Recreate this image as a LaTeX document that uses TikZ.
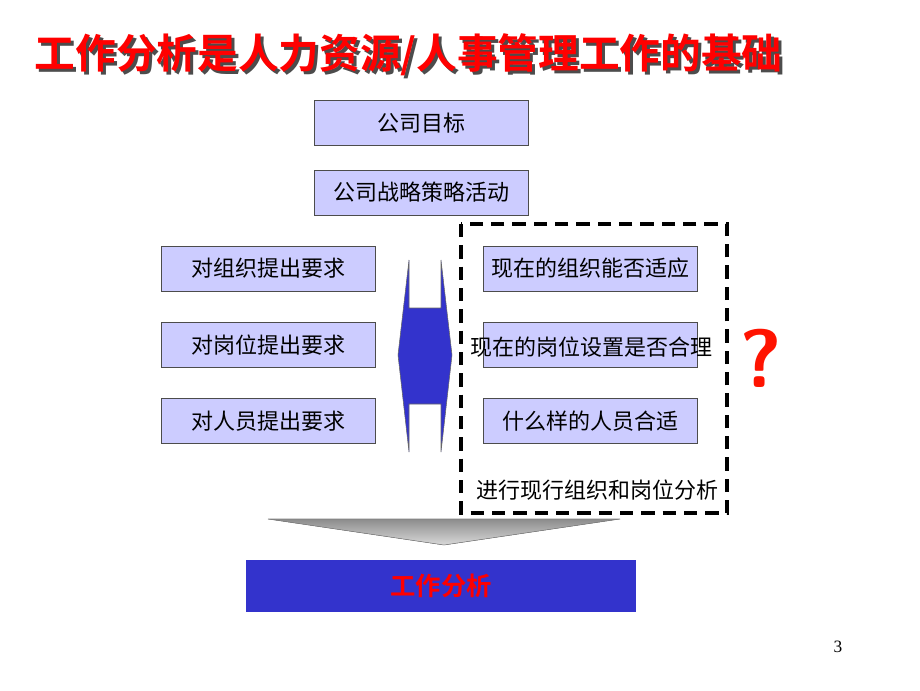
\documentclass[tikz,border=0pt]{standalone}
\usepackage{fontspec}
\setmainfont{Liberation Serif}
\newfontfamily\cjk{Noto Sans CJK SC}
\newfontfamily\cjkb{Noto Sans CJK SC Bold}
\usetikzlibrary{positioning}

\definecolor{boxfill}{RGB}{204,204,255}
\definecolor{deepblue}{RGB}{51,51,204}
\definecolor{titlered}{RGB}{255,0,0}

\begin{document}
\begin{tikzpicture}[x=0.75pt, y=-0.75pt,
    item/.style={draw=black!70, fill=boxfill, minimum width=160.5pt, minimum height=34pt,
        font=\cjk\fontsize{16.5}{18}\selectfont, inner sep=0pt},
    txt/.style={font=\cjk\fontsize{16.5}{18}\selectfont, inner sep=0pt}]
    \useasboundingbox (0,0) rectangle (920,690);
    % title
    \node[font=\cjkb\fontsize{30.5}{34}\selectfont, text=black!70, anchor=west] at (33,58) {工作分析是人力资源/人事管理工作的基础};
    \node[font=\cjkb\fontsize{30.5}{34}\selectfont, text=titlered, anchor=west] (title) at (30,55) {工作分析是人力资源/人事管理工作的基础};
    % top boxes
    \node[item] (goal) at (421.5,123) {公司目标};
    \node[item] (strategy) at (421.5,192.5) {公司战略策略活动};
    % left column
    \node[item] (req1) at (268.5,268.5) {对组织提出要求};
    \node[item] (req2) at (268.5,345) {对岗位提出要求};
    \node[item] (req3) at (268.5,421) {对人员提出要求};
    % right column
    \node[item] (q1) at (590,268.5) {现在的组织能否适应};
    \node[item] (q2) at (590,345) {};
    \node[txt] (q2t) at (591,347) {现在的岗位设置是否合理};
    \node[item] (q3) at (590,421) {什么样的人员合适};
    % dashed frame
    \draw[line width=3pt, dash pattern=on 10pt off 6pt] (461,224) rectangle (727,513);
    \node[txt] (analysis) at (597,490) {进行现行组织和岗位分析};
    \node[font=\fontfamily{lmss}\bfseries\fontsize{62}{62}\selectfont, text=titlered!85!orange] (qm) at (761,358) {?};
    % double arrow
    \fill[deepblue, draw=black!60] (409,260) -- (409,308) -- (441,308) -- (441,260) -- (452,355)
        -- (441,452) -- (441,404) -- (409,404) -- (409,452) -- (398,355) -- cycle;
    % down arrow
    \fill[top color=black!45, bottom color=black!15, draw=black!50] (268,519) -- (620,519) -- (444,545) -- cycle;
    % result box
    \node[fill=deepblue, minimum width=292.5pt, minimum height=39pt, inner sep=0pt,
        font=\cjkb\fontsize{19}{21}\selectfont, text=titlered] (job) at (441,586) {工作分析};
    % page number
    \node[font=\fontsize{13}{14}\selectfont] (page) at (838,647) {3};
\end{tikzpicture}
\end{document}
